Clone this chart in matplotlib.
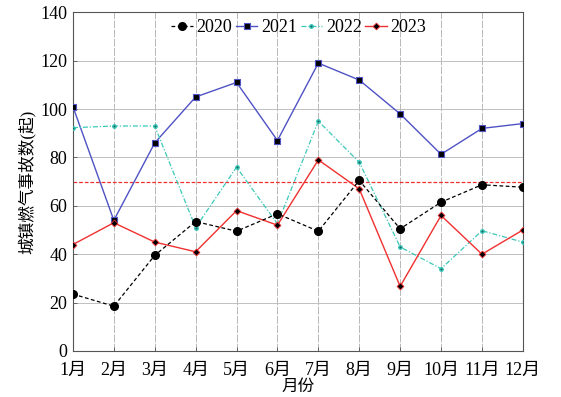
import matplotlib
matplotlib.use("Agg")
import matplotlib.pyplot as plt

months = ["1月", "2月", "3月", "4月", "5月", "6月", "7月", "8月", "9月", "10月", "11月", "12月"]
y2020 = [23.5, 18.5, 39.5, 53.5, 49.5, 56.7, 49.5, 70.5, 50.5, 61.5, 68.7, 67.7]
y2021 = [101, 54, 86, 105, 111, 87, 119, 112, 98, 81.3, 92, 94]
y2022 = [92.3, 93, 93, 51, 76, 52.5, 95, 78, 43, 34, 49.7, 45]
y2023 = [44, 53, 45, 41, 58, 52, 79, 67, 26.7, 56, 40, 50]
threshold = 70
yticks = [0, 20, 40, 60, 80, 100, 120, 140]

plt.rcParams['font.family'] = ['Liberation Serif', 'Noto Sans CJK SC']
plt.rcParams['font.size'] = 13

fig = plt.figure(figsize=(5.61, 3.97), dpi=100)
ax = fig.add_axes([0.130, 0.116, 0.802, 0.853])
x = list(range(1, len(months) + 1))

blue = "#4f52c4"
cyan = "#3cc8b8"

ax.plot(x, y2020, color="black", ls=(0, (3, 2)), lw=0.9, marker="o", ms=5.5,
        mfc="black", mec="black", label="2020", zorder=4)
ax.plot(x, y2021, color=blue, ls="-", lw=1.0, marker="s", ms=5,
        mfc="black", mec=blue, mew=0.8, label="2021", zorder=3)
ax.plot(x, y2022, color=cyan, ls=(0, (4, 1.5, 1, 1.5)), lw=0.9, marker="o", ms=2.5,
        mfc="#1a6060", mec=cyan, label="2022", zorder=3)
ax.plot(x, y2023, color="#f03030", ls="-", lw=1.0, marker="D", ms=3.5,
        mfc="black", mec="#f03030", mew=0.6, label="2023", zorder=3)
ax.axhline(threshold, color="#f03030", ls=(0, (3, 1.5)), lw=0.9, zorder=2)

ax.set_xlim(1, 12)
ax.set_ylim(0, 140)
ax.set_xticks(x)
ax.set_xticklabels(months)
ax.set_yticks(yticks)
ax.tick_params(direction="in", length=3, width=0.6, color="#555555")
ax.tick_params(axis="x", pad=8)
ax.tick_params(axis="y", pad=4)
ax.grid(True, axis="y", color="#c0c0c0", lw=0.7, ls="-")
ax.grid(True, axis="x", color="#b8b8b8", lw=0.7, ls=(0, (8, 1.5)))
for s in ax.spines.values():
    s.set_color("#555555")
    s.set_linewidth(0.8)

ax.set_xlabel("月份", fontsize=12, labelpad=0)
ax.set_ylabel("城镇燃气事故数(起)", fontsize=12, labelpad=3)

leg = ax.legend(loc="center", ncol=4, frameon=False,
                handlelength=1.2, handletextpad=0.2, columnspacing=0.2,
                borderpad=0.2, bbox_to_anchor=(0.502, 0.955))

fig.savefig("out.png", dpi=100, facecolor="white")
